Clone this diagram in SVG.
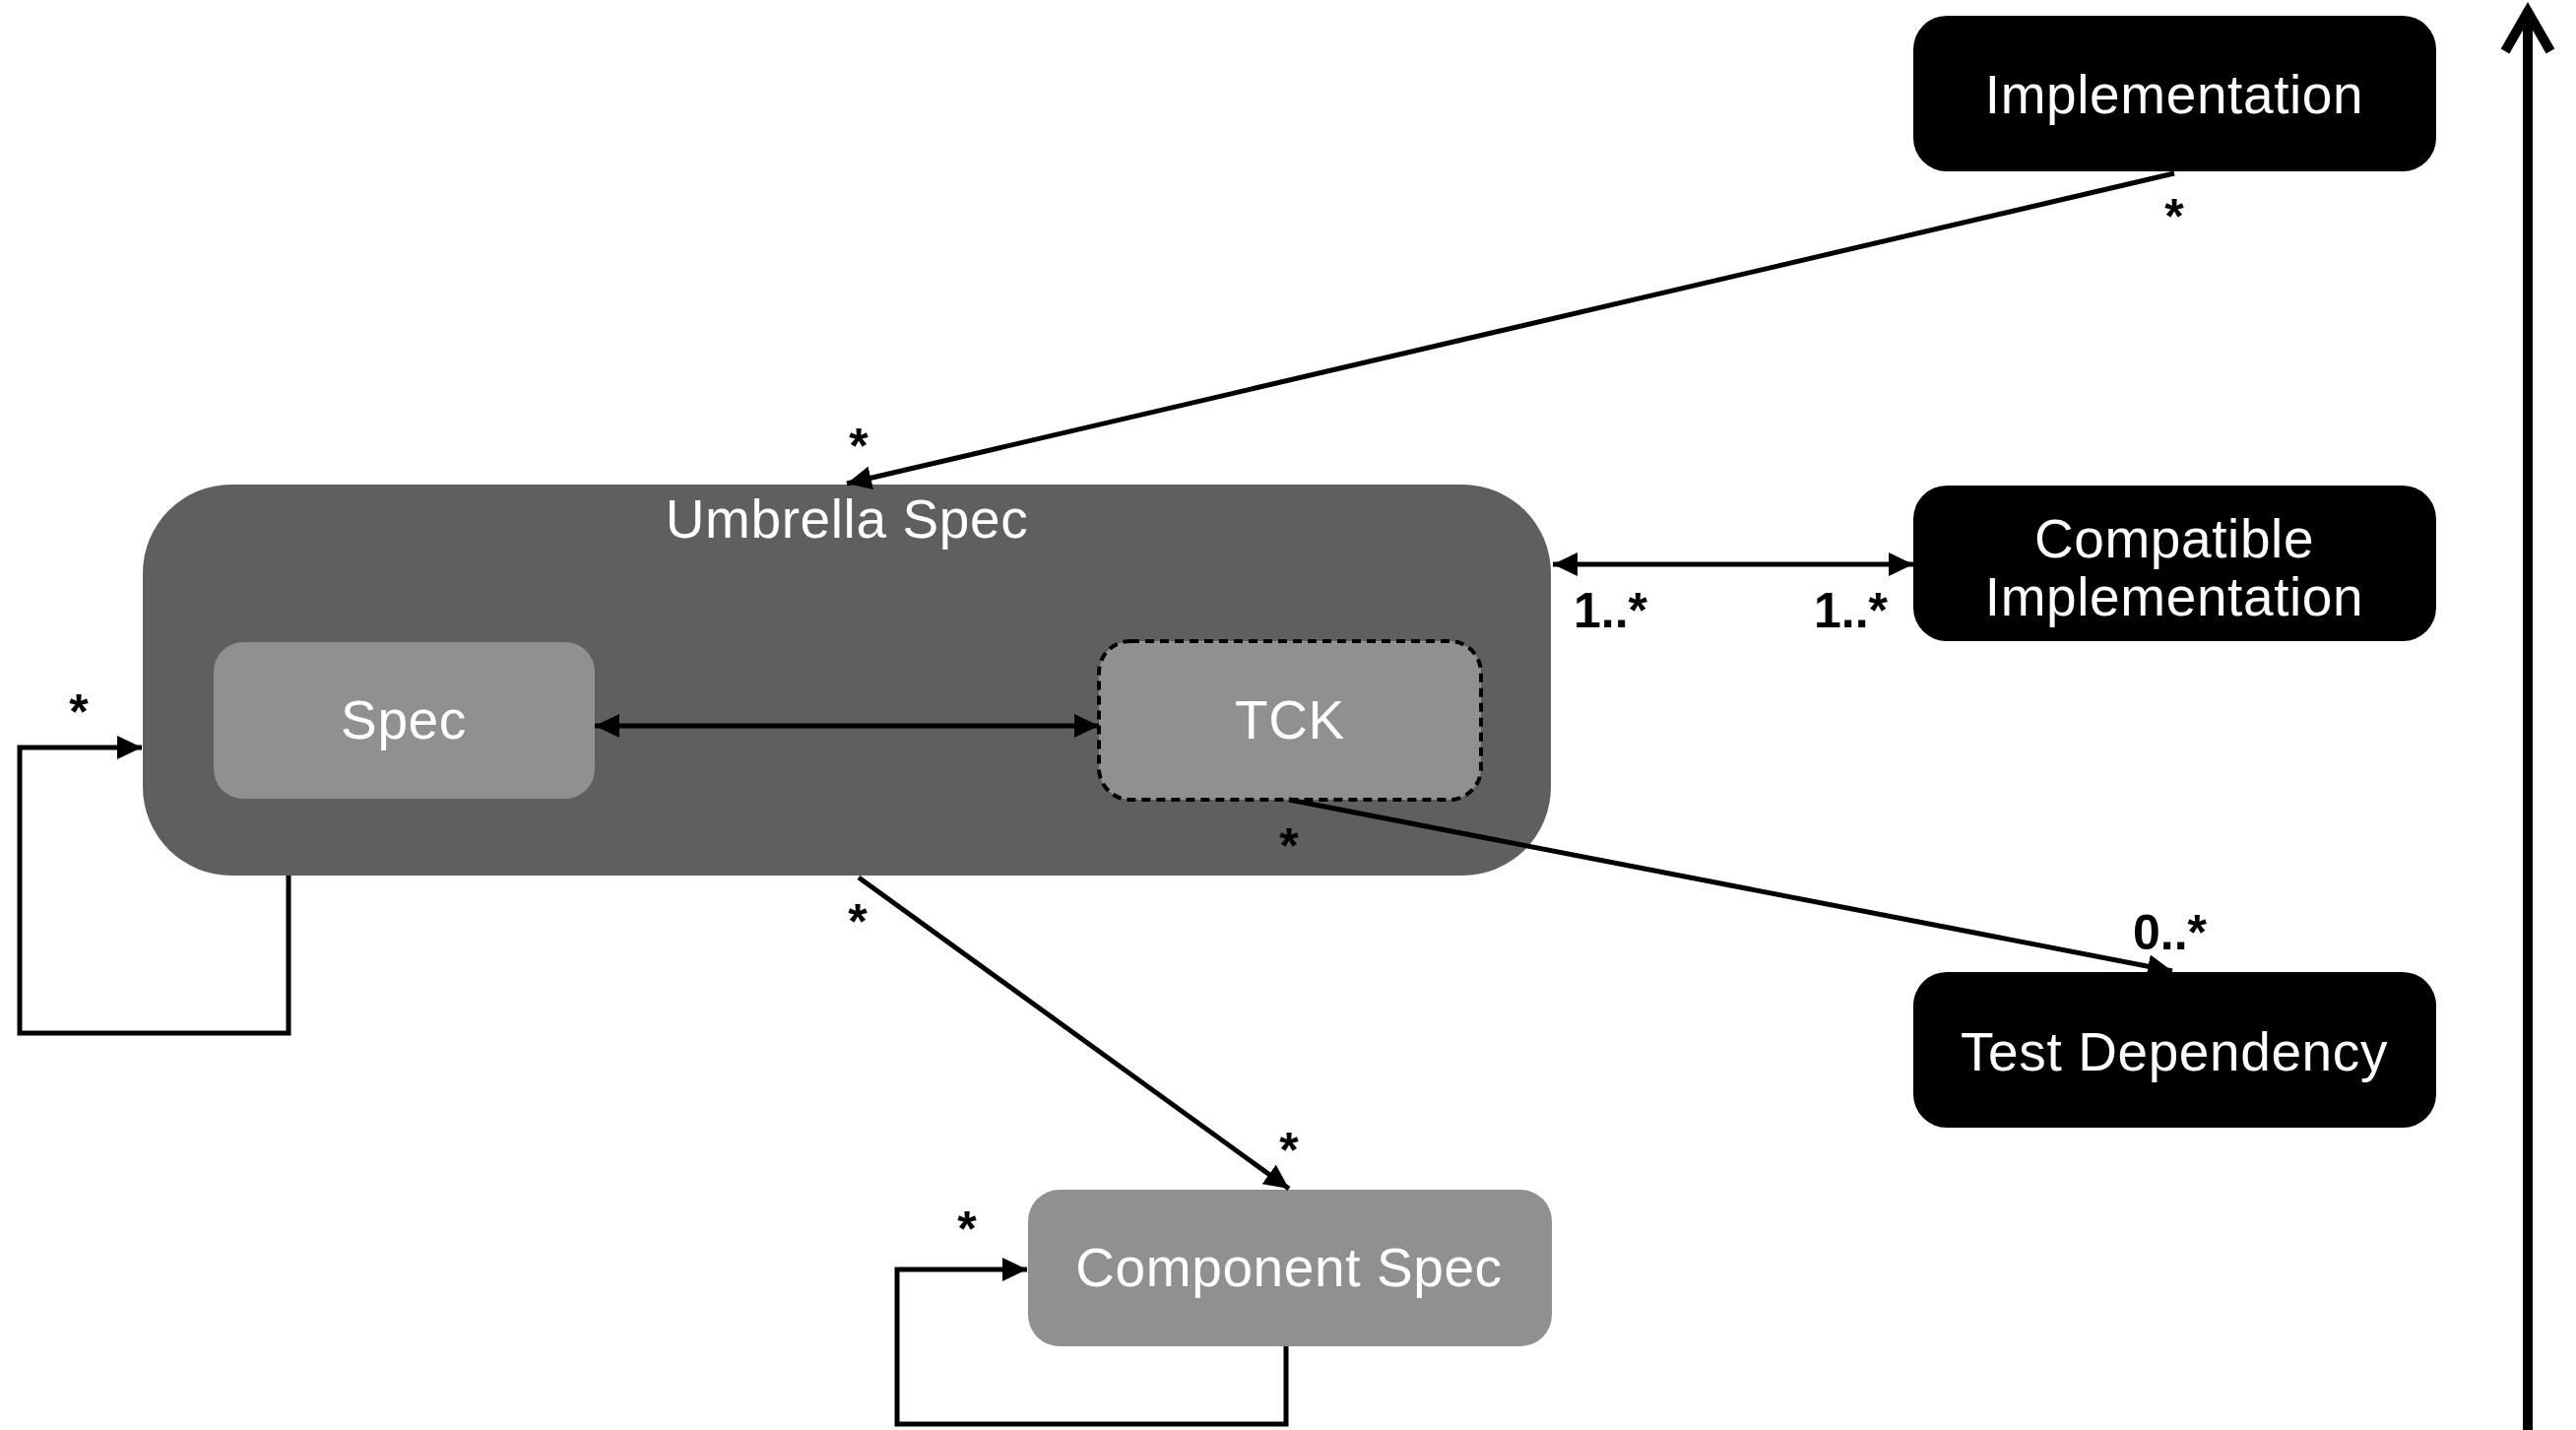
<svg xmlns="http://www.w3.org/2000/svg" width="2616" height="1452" viewBox="0 0 2616 1452">
<style>
.lbl{font-family:"Liberation Sans",Arial,Helvetica,sans-serif;font-size:55px;letter-spacing:0.6px;fill:#ffffff;text-anchor:middle}
.mult{font-family:"Liberation Sans",Arial,Helvetica,sans-serif;font-size:50px;font-weight:bold;fill:#000000}
.c{stroke:#000;stroke-width:5;fill:none}
.black{fill:#000}
.gray{fill:#909090}
</style>
<defs>
<marker id="ah" markerUnits="userSpaceOnUse" markerWidth="26" markerHeight="24" refX="25" refY="12" orient="auto-start-reverse" viewBox="0 0 26 24">
<path d="M0,0 L25,12 L0,24 z" fill="#000"/>
</marker>
</defs>
<rect width="2616" height="1452" fill="#ffffff"/>

<g id="umbrella-spec">
<rect x="145" y="492" width="1430" height="397" rx="90" ry="90" fill="#5f5f5f"/>
<text class="lbl" x="860" y="546">Umbrella Spec</text>
</g>
<g id="spec">
<rect class="gray" x="217" y="652" width="387" height="159" rx="30" ry="30"/>
<text class="lbl" x="410" y="750">Spec</text>
</g>
<g id="tck">
<rect class="gray" x="1116" y="651" width="388" height="161" rx="32" ry="32" stroke="#000" stroke-width="4" stroke-dasharray="9 6"/>
<text class="lbl" x="1310" y="750">TCK</text>
</g>
<g id="implementation">
<rect class="black" x="1943" y="16" width="531" height="158" rx="34" ry="34"/>
<text class="lbl" x="2208" y="115">Implementation</text>
</g>
<g id="compatible-implementation">
<rect class="black" x="1943" y="493" width="531" height="158" rx="34" ry="34"/>
<text class="lbl" x="2208" y="566">Compatible</text>
<text class="lbl" x="2208" y="625">Implementation</text>
</g>
<g id="test-dependency">
<rect class="black" x="1943" y="987" width="531" height="158" rx="34" ry="34"/>
<text class="lbl" x="2208" y="1087">Test Dependency</text>
</g>
<g id="component-spec">
<rect class="gray" x="1044" y="1208" width="532" height="159" rx="32" ry="32"/>
<text class="lbl" x="1309" y="1306">Component Spec</text>
</g>

<g id="connectors">
<line class="c" x1="2208" y1="176" x2="860" y2="491" marker-end="url(#ah)"/>
<line class="c" x1="604" y1="737" x2="1116" y2="737" marker-start="url(#ah)" marker-end="url(#ah)"/>
<line class="c" x1="1577" y1="573" x2="1943" y2="573" marker-start="url(#ah)" marker-end="url(#ah)"/>
<line class="c" x1="1309" y1="812" x2="2206" y2="986" marker-end="url(#ah)"/>
<line class="c" x1="872" y1="891" x2="1309" y2="1207" marker-end="url(#ah)"/>
<polyline class="c" points="293,889 293,1049 20,1049 20,759 144,759" marker-end="url(#ah)"/>
<polyline class="c" points="1306,1367 1306,1446 911,1446 911,1289 1043,1289" marker-end="url(#ah)"/>
<line x1="2567" y1="14" x2="2567" y2="1452" stroke="#000" stroke-width="10"/>
<polyline points="2544,52 2567,12 2590,52" fill="none" stroke="#000" stroke-width="10" stroke-linejoin="miter"/>
</g>

<g id="multiplicities">
<text class="mult" x="2208" y="237" text-anchor="middle">*</text>
<text class="mult" x="872" y="470" text-anchor="middle">*</text>
<text class="mult" x="1598" y="637">1..*</text>
<text class="mult" x="1842" y="637">1..*</text>
<text class="mult" x="80" y="740" text-anchor="middle">*</text>
<text class="mult" x="1309" y="876" text-anchor="middle">*</text>
<text class="mult" x="871" y="953" text-anchor="middle">*</text>
<text class="mult" x="2166" y="964">0..*</text>
<text class="mult" x="1309" y="1185" text-anchor="middle">*</text>
<text class="mult" x="982" y="1265" text-anchor="middle">*</text>
</g>
</svg>
